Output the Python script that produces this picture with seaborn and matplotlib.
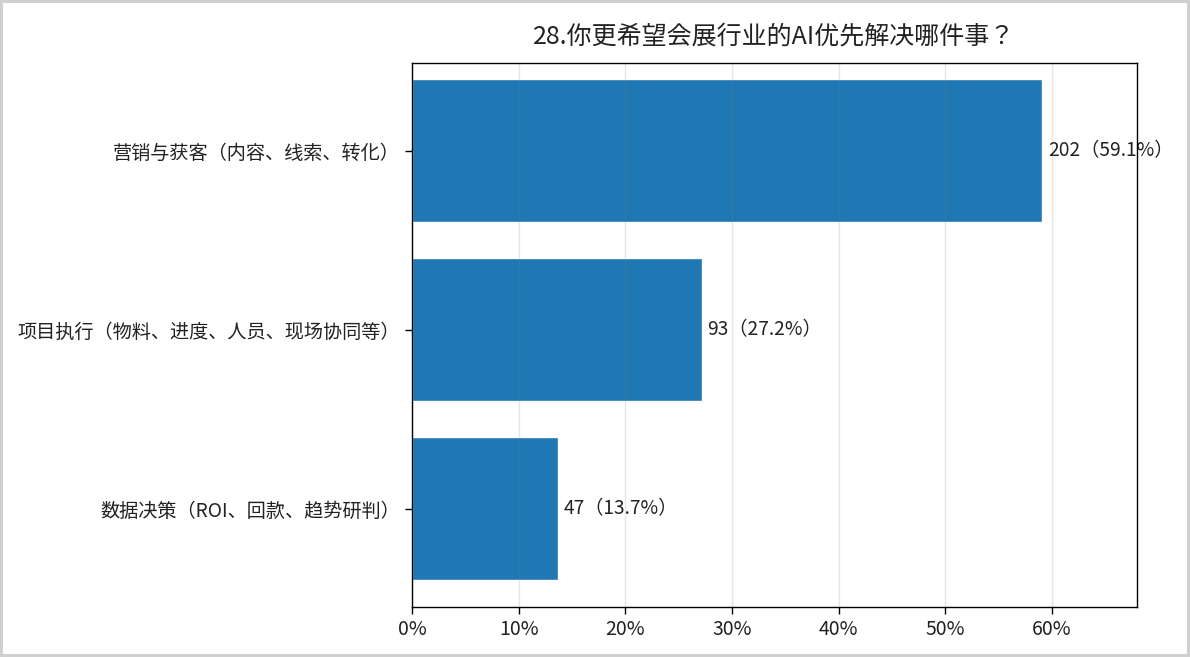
import matplotlib
matplotlib.use("Agg")
import matplotlib.pyplot as plt
import seaborn as sns
import pandas as pd
from matplotlib.ticker import FuncFormatter

categories = ["营销与获客（内容、线索、转化）", "项目执行（物料、进度、人员、现场协同等）", "数据决策（ROI、回款、趋势研判）"]
counts = [202, 93, 47]
percents = [59.1, 27.2, 13.7]
title = "28.你更希望会展行业的AI优先解决哪件事？"

sns.set_theme(style="white")
plt.rcParams['font.family'] = ['Noto Sans CJK JP', 'DejaVu Sans']
plt.rcParams['axes.unicode_minus'] = False

df = pd.DataFrame({"cat": categories, "pct": percents, "n": counts})

fig = plt.figure(figsize=(11.9, 6.57), dpi=100)
fig.patch.set_edgecolor("#d0d0d0")
fig.patch.set_linewidth(3)
ax = fig.add_axes([0.3462, 0.0761, 0.6093, 0.828])

sns.barplot(data=df, x="pct", y="cat", orient="h", color="#1f77b4", saturation=1,
            width=0.8, ax=ax, zorder=1)
ax.set_xlim(0, max(percents) * 1.15)
ax.set_ylim(2.55, -0.49)
ax.xaxis.set_major_formatter(FuncFormatter(lambda v, p: f"{v:.0f}%"))
ax.grid(axis="x", color="#808080", alpha=0.2, linewidth=1, zorder=2)
ax.set_axisbelow(False)
ax.set_xlabel("")
ax.set_ylabel("")
for s in ax.spines.values():
    s.set_visible(True)
    s.set_color("black")
    s.set_linewidth(1.0)
    s.set_zorder(5)
ax.tick_params(axis="y", labelsize=13.8)
ax.tick_params(axis="x", labelsize=14)
ax.tick_params(axis="both", colors="black", length=5, width=1,
               direction="out", bottom=True, left=True)
ax.tick_params(axis="both", labelcolor="#222222")

for i, (n, p) in enumerate(zip(counts, percents)):
    ax.text(p + 0.5, i, f"{n}（{p:.1f}%）", va="center", ha="left", fontsize=13.8,
            color="#222222", zorder=3, clip_on=False)

ax.set_title(title, fontsize=18, pad=14, color="#222222")

fig.savefig("out.png", dpi=100, edgecolor=fig.get_edgecolor())
